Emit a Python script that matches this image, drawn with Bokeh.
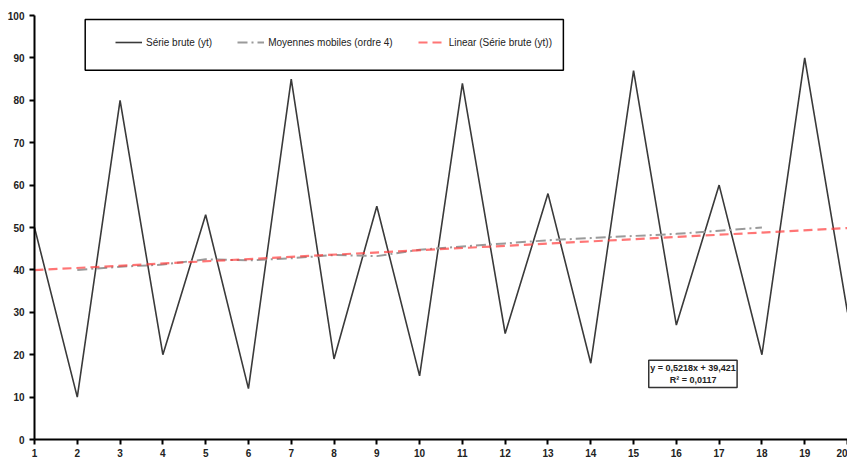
from bokeh.plotting import figure
from bokeh.models import Range1d, FixedTicker, Legend, LegendItem, BoxAnnotation, Label
from bokeh.embed import file_html
from bokeh.resources import INLINE

# data
t = list(range(1, 21))
serie_brute = [50, 10, 80, 20, 53, 12, 85, 19, 55, 15, 84, 25, 58, 18, 87, 27, 60, 20, 90, 30]
ma_x = list(range(2, 19))
moyennes_mobiles = [40, 40.75, 41.25, 42.5, 42.25, 42.75, 43.5, 43.25, 44.75, 45.5,
                    46.25, 47, 47.5, 48, 48.5, 49.25, 50]
slope = 0.5218
intercept = 39.421
r2 = 0.0117
trend_x = [1, 20]
trend_y = [slope * v + intercept for v in trend_x]

FONT = "'Liberation Sans Narrow', 'Arial Narrow', 'Liberation Sans', sans-serif"

p = figure(width=847, height=459, output_backend="svg", toolbar_location=None,
           x_range=Range1d(1, 20), y_range=Range1d(0, 100),
           min_border_left=34, min_border_right=0, min_border_top=15, min_border_bottom=16)
p.grid.visible = False
p.outline_line_color = None
p.background_fill_color = "white"
p.border_fill_color = "white"

for ax in (p.xaxis[0], p.yaxis[0]):
    ax.axis_line_color = "black"
    ax.axis_line_width = 2
    ax.major_tick_line_color = "black"
    ax.major_tick_line_width = 2
    ax.major_tick_out = 5
    ax.major_tick_in = 0
    ax.minor_tick_line_color = None
    ax.major_label_text_font = FONT
    ax.major_label_text_font_style = "bold"
    ax.major_label_text_font_size = "10px"
    ax.major_label_text_color = "#222222"
p.xaxis.ticker = FixedTicker(ticks=t)
p.yaxis.ticker = FixedTicker(ticks=list(range(0, 101, 10)))
p.xaxis.major_label_standoff = 4
p.yaxis.major_label_standoff = 5

r1 = p.line(t, serie_brute, line_color="#3a3a3a", line_width=1.6)
r2 = p.line(ma_x, moyennes_mobiles, line_color="#9a9a9a", line_width=2, line_dash="10 4 2 4")
r3 = p.line(trend_x, trend_y, line_color="#ff3b3b", line_alpha=0.7, line_width=2.2, line_dash="9 5")

# legend frame
p.add_layout(BoxAnnotation(left=2.185, right=13.36, top=99.08, bottom=87.07,
                           fill_color="white", fill_alpha=1,
                           line_color="black", line_alpha=1, line_width=1.5, level="overlay"))
legend = Legend(items=[LegendItem(label="Série brute (yt)", renderers=[r1]),
                       LegendItem(label="Moyennes mobiles (ordre 4)", renderers=[r2]),
                       LegendItem(label="Linear (Série brute (yt))", renderers=[r3])],
                orientation="horizontal", location=(81, 387), padding=10, spacing=25,
                glyph_width=27, label_standoff=4, margin=0,
                border_line_color=None, background_fill_alpha=0,
                label_text_font=FONT, label_text_font_size="10px", label_text_color="#222222")
p.add_layout(legend, "center")

# equation box
p.add_layout(BoxAnnotation(left=15.355, right=17.42, top=18.7, bottom=12.24,
                           fill_color="white", fill_alpha=1,
                           line_color="#333333", line_alpha=1, line_width=1.5, level="overlay"))
p.add_layout(Label(x=16.39, y=16.9, text="y = 0,5218x + 39,421", text_align="center",
                   text_baseline="middle", text_font=FONT, text_font_style="bold",
                   text_font_size="9px", text_color="#222222", level="overlay"))
p.add_layout(Label(x=16.39, y=14.0, text="R² = 0,0117", text_align="center",
                   text_baseline="middle", text_font=FONT, text_font_style="bold",
                   text_font_size="9px", text_color="#222222", level="overlay"))

open("out.html", "w").write(file_html(p, INLINE))
